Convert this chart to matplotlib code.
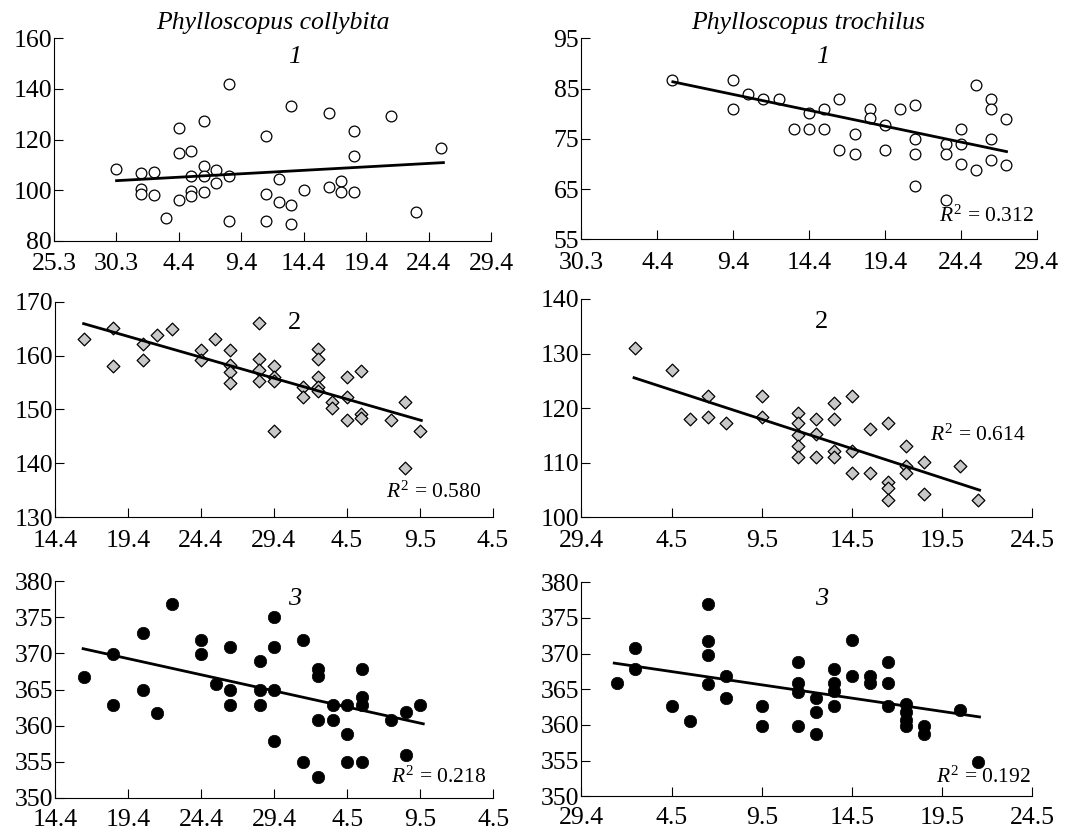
import matplotlib
matplotlib.use('Agg')
import matplotlib.pyplot as plt

plt.rcParams['font.family'] = ['Liberation Serif', 'DejaVu Serif']
plt.rcParams['mathtext.fontset'] = 'custom'
plt.rcParams['mathtext.rm'] = 'Liberation Serif'
plt.rcParams['mathtext.it'] = 'Liberation Serif:italic'

# x = days counted from the first tick of each panel
p1_x = [5, 7, 7, 7, 8, 8, 9, 10, 10, 10, 11, 11, 11, 11, 12, 12, 12, 12, 13, 13, 14, 14, 14,
        17, 17, 17, 18, 18, 19, 19, 19, 20, 22, 22, 23, 23, 24, 24, 24, 27, 29, 31]
p1_y = [108.3, 106.7, 100.5, 98.4, 107.1, 98.2, 89, 124.5, 114.6, 95.9, 115.3, 105.4, 99.5, 97.5,
        127.4, 109.7, 105.4, 99.1, 108, 103, 142, 105.4, 87.9, 121.2, 98.6, 87.9, 104.3, 95.3,
        133.3, 94.2, 86.7, 99.9, 130.4, 101.2, 103.4, 99.1, 123.4, 113.6, 99.2, 129.3, 91.2, 116.6]
fit1_x = [4.9, 31.3]
fit1_y = [103.7, 110.9]

p2_x = [11, 15, 15, 16, 17, 18, 19, 20, 20, 21, 21, 22, 22, 23, 23, 24, 24, 25, 25, 26, 27, 27, 27,
        27, 29, 29, 29, 30, 30, 30, 31, 31, 32, 32, 32, 32, 33, 33]
p2_y = [86.8, 86.8, 80.9, 83.9, 82.9, 82.9, 76.9, 80.1, 76.9, 80.9, 76.9, 82.9, 72.8, 76.0, 71.9,
        80.9, 79.1, 77.8, 72.8, 80.9, 81.8, 75.0, 71.9, 65.7, 73.9, 71.9, 62.8, 76.9, 73.9, 69.9,
        85.8, 68.8, 82.9, 80.9, 75.0, 70.8, 78.9, 69.8]
fit2_x = [10.94, 33.1]
fit2_y = [86.4, 72.4]

p3_x = [2, 4, 4, 6, 6, 7, 8, 10, 10, 11, 12, 12, 12, 12, 14, 14, 14, 14, 15, 15, 15, 15, 17, 17,
        18, 18, 18, 18, 18, 19, 19, 20, 20, 20, 21, 21, 21, 23, 24, 24, 25]
p3_y = [163.0, 165.2, 158.1, 162.1, 159.1, 163.9, 164.9, 161.0, 159.1, 163.0, 161.0, 158.3, 157.0,
        155.0, 166.1, 159.3, 157.3, 155.3, 158.1, 156.1, 155.2, 146.0, 154.2, 152.3, 161.3, 159.3,
        156.1, 154.1, 153.4, 151.3, 150.2, 156.1, 152.3, 148.1, 157.2, 149.1, 148.4, 148.1, 151.3,
        139.2, 146.0]
fit3_x = [1.87, 25.2]
fit3_y = [166.0, 147.9]

p4_x = [3, 5, 6, 7, 7, 8, 10, 10, 12, 12, 12, 12, 12, 13, 13, 13, 14, 14, 14, 14, 15, 15, 15, 16, 16,
        17, 17, 17, 17, 18, 18, 18, 19, 19, 21, 22]
p4_y = [131.1, 127.0, 118.0, 122.2, 118.3, 117.2, 122.2, 118.3, 119.2, 117.2, 115.1, 113.1, 111.1,
        118.1, 115.3, 111.1, 121.0, 118.1, 112.2, 111.1, 122.2, 112.2, 108.2, 116.1, 108.2, 117.3,
        106.4, 105.3, 103.2, 113.1, 109.4, 108.2, 110.2, 104.2, 109.4, 103.2]
fit4_x = [2.85, 22.15]
fit4_y = [125.65, 104.9]

p5_x = [2, 4, 4, 6, 6, 7, 8, 10, 10, 11, 12, 12, 12, 14, 14, 14, 15, 15, 15, 15, 17, 17, 18, 18, 18,
        18, 19, 19, 20, 20, 20, 21, 21, 21, 21, 23, 24, 24, 25]
p5_y = [366.8, 369.9, 362.9, 372.9, 364.9, 361.8, 376.9, 371.9, 369.9, 365.8, 370.9, 364.9, 362.9,
        369.0, 365.0, 362.9, 375.0, 370.9, 364.9, 357.8, 371.9, 354.9, 367.9, 366.9, 360.8, 352.9,
        362.9, 360.8, 362.9, 358.9, 354.9, 367.9, 364.0, 362.9, 354.9, 360.8, 361.9, 355.9, 362.9]
fit5_x = [1.83, 25.3]
fit5_y = [370.7, 360.2]

p6_x = [2, 3, 3, 5, 6, 7, 7, 7, 7, 8, 8, 10, 10, 12, 12, 12, 12, 13, 13, 13, 14, 14, 14, 14, 15, 15,
        16, 16, 17, 17, 17, 18, 18, 18, 18, 19, 19, 21, 22]
p6_y = [365.9, 370.8, 367.8, 362.7, 360.6, 376.9, 371.8, 369.8, 365.7, 366.8, 363.8, 362.7, 359.8,
        368.8, 365.9, 364.6, 359.8, 363.8, 361.8, 358.7, 367.8, 365.9, 364.8, 362.7, 371.9, 366.8,
        366.9, 365.9, 368.8, 365.9, 362.7, 362.9, 361.8, 360.7, 359.8, 359.9, 358.7, 362.1, 354.8]
fit6_x = [1.75, 22.15]
fit6_y = [368.7, 361.1]

xlab_1l = ['25.3', '30.3', '4.4', '9.4', '14.4', '19.4', '24.4', '29.4']
xlab_1r = ['30.3', '4.4', '9.4', '14.4', '19.4', '24.4', '29.4']
xlab_l = ['14.4', '19.4', '24.4', '29.4', '4.5', '9.5', '4.5']
xlab_r = ['29.4', '4.5', '9.5', '14.5', '19.5', '24.5']

W, H = 1079, 831
fig = plt.figure(figsize=(W / 100, H / 100), dpi=100)


def make_ax(l, r, t, b, xpad):
    ax = fig.add_axes([l / W, 1 - b / H, (r - l) / W, (b - t) / H])
    ax.spines['top'].set_visible(False)
    ax.spines['right'].set_visible(False)
    ax.tick_params(direction='in', length=6.5, width=0.8, labelsize=18.5)
    ax.tick_params(axis='x', pad=xpad)
    ax.tick_params(axis='y', pad=1.5)
    ax.set_facecolor('none')
    return ax


circle = dict(marker='o', s=60, facecolors='white', edgecolors='black', linewidths=0.9)
diamond = dict(marker='D', s=42, facecolors='#c8c8c8', edgecolors='black', linewidths=0.9)
dot = dict(marker='o', s=80, facecolors='black', edgecolors='black', linewidths=0.5)

panels = [
    # points, fit line, marker, pixel rect, x range, x labels, y range, y step, number label, R^2
    (p1_x, p1_y, fit1_x, fit1_y, circle, (54, 491, 38.3, 240.7), 0, 35, xlab_1l, 80, 160, 20,
     '1', (19.3, 152.8), True, None),
    (p2_x, p2_y, fit2_x, fit2_y, circle, (581.3, 1036.7, 38.3, 239.3), 5, 35, xlab_1r, 55, 95, 10,
     '1', (20.9, 91.3), True, ('0.312', 34.8, 59.6)),
    (p3_x, p3_y, fit3_x, fit3_y, diamond, (55, 492.7, 301.7, 517.3), 0, 30, xlab_l, 130, 170, 10,
     '2', (16.4, 166.1), False, ('0.580', 29.2, 134.6)),
    (p4_x, p4_y, fit4_x, fit4_y, diamond, (581.3, 1032.3, 299, 517.3), 0, 25, xlab_r, 100, 140, 10,
     '2', (13.3, 135.7), False, ('0.614', 24.6, 115.1)),
    (p5_x, p5_y, fit5_x, fit5_y, dot, (55, 493.3, 581.3, 797.7), 0, 30, xlab_l, 350, 380, 5,
     '3', (16.4, 377.6), True, ('0.218', 29.5, 352.8)),
    (p6_x, p6_y, fit6_x, fit6_y, dot, (581.3, 1032.3, 582.3, 796.3), 0, 25, xlab_r, 350, 380, 5,
     '3', (13.3, 377.7), True, ('0.192', 24.9, 352.7)),
]

axes = []
for i, (px, py, fx, fy, mk, rect, x0, x1, xlabs, y0, y1, ystep, num, numpos, ital, r2) in enumerate(panels):
    ax = make_ax(*rect, xpad=9 if i < 4 else 8)
    ax.scatter(px, py, zorder=3, clip_on=False, **mk)
    ax.plot(fx, fy, color='black', lw=2.0, zorder=4, solid_capstyle='butt')
    ax.set_xlim(x0, x1)
    ax.set_ylim(y0, y1)
    ax.set_xticks(list(range(x0, x1 + 1, 5)))
    ax.set_xticklabels(xlabs)
    ax.set_yticks(list(range(y0, y1 + 1, ystep)))
    ax.text(numpos[0], numpos[1], num, fontsize=19, ha='center', va='center',
            style='italic' if ital else 'normal')
    if r2 is not None:
        ax.text(r2[1], r2[2], r'$R^2$ = ' + r2[0], fontsize=15.5, ha='right', va='center')
    axes.append(ax)

axes[0].text(0.50, 1.076, 'Phylloscopus collybita', transform=axes[0].transAxes,
             fontsize=18.5, style='italic', ha='center', va='center')
axes[1].text(0.498, 1.076, 'Phylloscopus trochilus', transform=axes[1].transAxes,
             fontsize=18.5, style='italic', ha='center', va='center')

fig.savefig('out.png', dpi=100)
